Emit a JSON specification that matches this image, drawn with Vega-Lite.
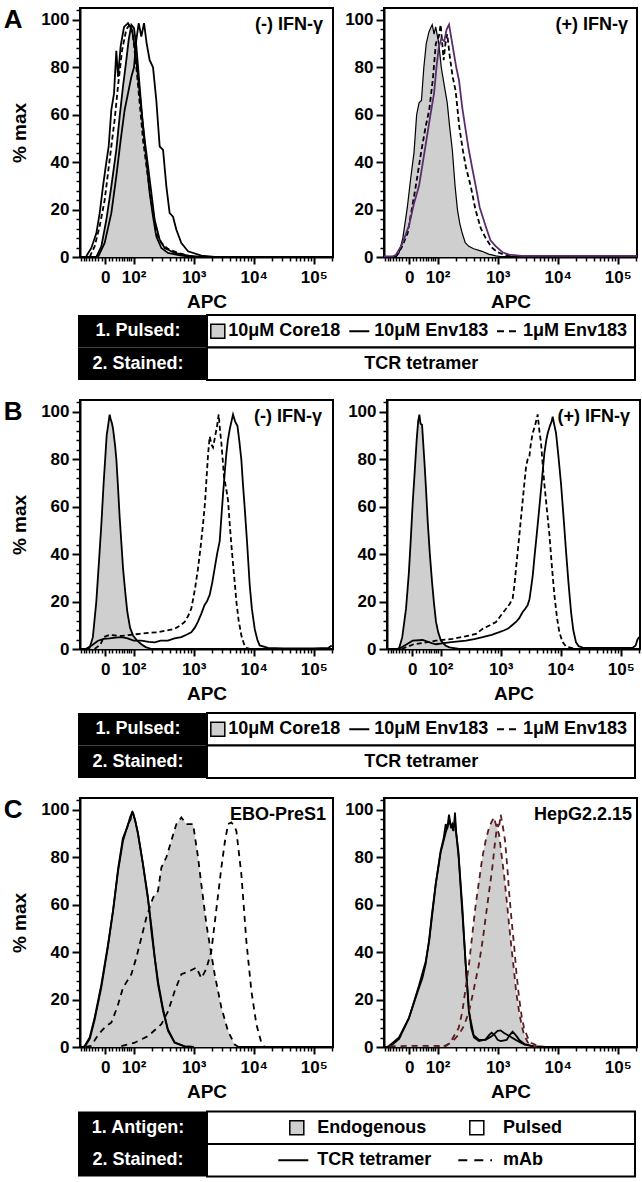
{
"$schema": "https://vega.github.io/schema/vega-lite/v6.json",
"padding": {"left": 2, "top": 6, "right": 0, "bottom": 0},
"config": {
  "font": "Liberation Sans",
  "view": {"stroke": "black", "strokeWidth": 2},
  "axis": {"grid": false, "domainColor": "black", "domainWidth": 2, "tickColor": "black", "tickWidth": 2, "labelColor": "black", "titleColor": "black", "labelFontSize": 17, "labelFontWeight": "bold", "titleFontSize": 19, "titleFontWeight": "bold"}
},
"datasets": {
"hist": [
{"p":"A1","s":"core","x":1.378,"y":0},{"p":"A1","s":"core","x":1.462,"y":4.5},{"p":"A1","s":"core","x":1.545,"y":15.7},{"p":"A1","s":"core","x":1.628,"y":29.8},{"p":"A1","s":"core","x":1.711,"y":45.2},{"p":"A1","s":"core","x":1.767,"y":59.3},{"p":"A1","s":"core","x":1.823,"y":72},{"p":"A1","s":"core","x":1.878,"y":83},{"p":"A1","s":"core","x":1.917,"y":91.6},{"p":"A1","s":"core","x":1.962,"y":97.9},{"p":"A1","s":"core","x":2.006,"y":96.5},{"p":"A1","s":"core","x":2.045,"y":88.8},{"p":"A1","s":"core","x":2.1,"y":72},{"p":"A1","s":"core","x":2.156,"y":55},{"p":"A1","s":"core","x":2.212,"y":41},{"p":"A1","s":"core","x":2.267,"y":27},{"p":"A1","s":"core","x":2.323,"y":17},{"p":"A1","s":"core","x":2.378,"y":8.7},{"p":"A1","s":"core","x":2.462,"y":3.8},{"p":"A1","s":"core","x":2.573,"y":1.7},{"p":"A1","s":"core","x":2.795,"y":0.6},{"p":"A1","s":"core","x":3.017,"y":0},
{"p":"A1","s":"solidA","x":1.21,"y":0.3},{"p":"A1","s":"solidA","x":1.295,"y":3.8},{"p":"A1","s":"solidA","x":1.378,"y":10},{"p":"A1","s":"solidA","x":1.434,"y":18.5},{"p":"A1","s":"solidA","x":1.49,"y":30},{"p":"A1","s":"solidA","x":1.545,"y":40},{"p":"A1","s":"solidA","x":1.584,"y":46.6},{"p":"A1","s":"solidA","x":1.628,"y":62},{"p":"A1","s":"solidA","x":1.673,"y":69},{"p":"A1","s":"solidA","x":1.711,"y":87},{"p":"A1","s":"solidA","x":1.739,"y":76},{"p":"A1","s":"solidA","x":1.784,"y":89},{"p":"A1","s":"solidA","x":1.84,"y":97},{"p":"A1","s":"solidA","x":1.906,"y":98.6},{"p":"A1","s":"solidA","x":1.973,"y":95.8},{"p":"A1","s":"solidA","x":2.017,"y":88.8},{"p":"A1","s":"solidA","x":2.073,"y":76},{"p":"A1","s":"solidA","x":2.128,"y":62},{"p":"A1","s":"solidA","x":2.184,"y":49.4},{"p":"A1","s":"solidA","x":2.24,"y":38.2},{"p":"A1","s":"solidA","x":2.295,"y":27},{"p":"A1","s":"solidA","x":2.35,"y":15.7},{"p":"A1","s":"solidA","x":2.434,"y":7.3},{"p":"A1","s":"solidA","x":2.517,"y":3.8},{"p":"A1","s":"solidA","x":2.684,"y":1.7},{"p":"A1","s":"solidA","x":2.906,"y":0.6},{"p":"A1","s":"solidA","x":3.128,"y":0},
{"p":"A1","s":"solidB","x":1.406,"y":0},{"p":"A1","s":"solidB","x":1.517,"y":5.9},{"p":"A1","s":"solidB","x":1.628,"y":18.5},{"p":"A1","s":"solidB","x":1.711,"y":34},{"p":"A1","s":"solidB","x":1.784,"y":49.4},{"p":"A1","s":"solidB","x":1.85,"y":62},{"p":"A1","s":"solidB","x":1.906,"y":69},{"p":"A1","s":"solidB","x":1.962,"y":76},{"p":"A1","s":"solidB","x":2.006,"y":80},{"p":"A1","s":"solidB","x":2.045,"y":91.6},{"p":"A1","s":"solidB","x":2.084,"y":98.6},{"p":"A1","s":"solidB","x":2.128,"y":93},{"p":"A1","s":"solidB","x":2.173,"y":98.6},{"p":"A1","s":"solidB","x":2.217,"y":90},{"p":"A1","s":"solidB","x":2.267,"y":83},{"p":"A1","s":"solidB","x":2.323,"y":80},{"p":"A1","s":"solidB","x":2.378,"y":66},{"p":"A1","s":"solidB","x":2.434,"y":46.6},{"p":"A1","s":"solidB","x":2.49,"y":45.2},{"p":"A1","s":"solidB","x":2.545,"y":29.8},{"p":"A1","s":"solidB","x":2.6,"y":18.5},{"p":"A1","s":"solidB","x":2.656,"y":17},{"p":"A1","s":"solidB","x":2.712,"y":11.5},{"p":"A1","s":"solidB","x":2.795,"y":5.9},{"p":"A1","s":"solidB","x":2.906,"y":2.4},{"p":"A1","s":"solidB","x":3.128,"y":0.6},{"p":"A1","s":"solidB","x":3.35,"y":0},
{"p":"A1","s":"dash","x":1.267,"y":0},{"p":"A1","s":"dash","x":1.35,"y":4.5},{"p":"A1","s":"dash","x":1.434,"y":13},{"p":"A1","s":"dash","x":1.517,"y":24},{"p":"A1","s":"dash","x":1.6,"y":41},{"p":"A1","s":"dash","x":1.684,"y":58},{"p":"A1","s":"dash","x":1.739,"y":72},{"p":"A1","s":"dash","x":1.806,"y":87},{"p":"A1","s":"dash","x":1.878,"y":96},{"p":"A1","s":"dash","x":1.934,"y":98},{"p":"A1","s":"dash","x":1.99,"y":93},{"p":"A1","s":"dash","x":2.045,"y":80},{"p":"A1","s":"dash","x":2.1,"y":65},{"p":"A1","s":"dash","x":2.156,"y":49.4},{"p":"A1","s":"dash","x":2.228,"y":35.4},{"p":"A1","s":"dash","x":2.306,"y":21.3},{"p":"A1","s":"dash","x":2.378,"y":10},{"p":"A1","s":"dash","x":2.462,"y":5.9},{"p":"A1","s":"dash","x":2.573,"y":3.4},{"p":"A1","s":"dash","x":2.74,"y":1.7},{"p":"A1","s":"dash","x":2.96,"y":0.3},
{"p":"A2","s":"core","x":1.3,"y":0},{"p":"A2","s":"core","x":1.356,"y":1.7},{"p":"A2","s":"core","x":1.42,"y":8},{"p":"A2","s":"core","x":1.495,"y":21},{"p":"A2","s":"core","x":1.55,"y":33},{"p":"A2","s":"core","x":1.606,"y":44},{"p":"A2","s":"core","x":1.65,"y":60},{"p":"A2","s":"core","x":1.69,"y":65},{"p":"A2","s":"core","x":1.73,"y":66},{"p":"A2","s":"core","x":1.77,"y":80},{"p":"A2","s":"core","x":1.81,"y":90},{"p":"A2","s":"core","x":1.856,"y":95},{"p":"A2","s":"core","x":1.91,"y":98},{"p":"A2","s":"core","x":1.94,"y":94},{"p":"A2","s":"core","x":1.967,"y":97},{"p":"A2","s":"core","x":2.02,"y":90},{"p":"A2","s":"core","x":2.06,"y":80},{"p":"A2","s":"core","x":2.106,"y":73},{"p":"A2","s":"core","x":2.16,"y":65},{"p":"A2","s":"core","x":2.2,"y":55},{"p":"A2","s":"core","x":2.245,"y":45},{"p":"A2","s":"core","x":2.29,"y":30},{"p":"A2","s":"core","x":2.33,"y":20},{"p":"A2","s":"core","x":2.37,"y":14},{"p":"A2","s":"core","x":2.41,"y":10},{"p":"A2","s":"core","x":2.46,"y":6},{"p":"A2","s":"core","x":2.52,"y":4.5},{"p":"A2","s":"core","x":2.6,"y":3.5},{"p":"A2","s":"core","x":2.74,"y":2.4},{"p":"A2","s":"core","x":2.85,"y":1.2},{"p":"A2","s":"core","x":2.97,"y":0.5},{"p":"A2","s":"core","x":3.1,"y":0},
{"p":"A2","s":"env10","x":1.106,"y":0.3},{"p":"A2","s":"env10","x":1.25,"y":0.3},{"p":"A2","s":"env10","x":1.3,"y":0.8},{"p":"A2","s":"env10","x":1.4,"y":5},{"p":"A2","s":"env10","x":1.52,"y":13},{"p":"A2","s":"env10","x":1.6,"y":22},{"p":"A2","s":"env10","x":1.69,"y":30},{"p":"A2","s":"env10","x":1.76,"y":41},{"p":"A2","s":"env10","x":1.83,"y":52},{"p":"A2","s":"env10","x":1.88,"y":60},{"p":"A2","s":"env10","x":1.94,"y":69},{"p":"A2","s":"env10","x":1.98,"y":80},{"p":"A2","s":"env10","x":2.02,"y":88.5},{"p":"A2","s":"env10","x":2.06,"y":92},{"p":"A2","s":"env10","x":2.11,"y":91},{"p":"A2","s":"env10","x":2.15,"y":96},{"p":"A2","s":"env10","x":2.19,"y":98},{"p":"A2","s":"env10","x":2.23,"y":92},{"p":"A2","s":"env10","x":2.27,"y":86},{"p":"A2","s":"env10","x":2.31,"y":80},{"p":"A2","s":"env10","x":2.356,"y":74.5},{"p":"A2","s":"env10","x":2.41,"y":63},{"p":"A2","s":"env10","x":2.467,"y":53.5},{"p":"A2","s":"env10","x":2.52,"y":45},{"p":"A2","s":"env10","x":2.58,"y":37},{"p":"A2","s":"env10","x":2.634,"y":30},{"p":"A2","s":"env10","x":2.7,"y":21},{"p":"A2","s":"env10","x":2.8,"y":13},{"p":"A2","s":"env10","x":2.88,"y":7},{"p":"A2","s":"env10","x":2.97,"y":4.5},{"p":"A2","s":"env10","x":3.08,"y":2},{"p":"A2","s":"env10","x":3.19,"y":1},{"p":"A2","s":"env10","x":3.4,"y":0.5},{"p":"A2","s":"env10","x":4,"y":0.5},{"p":"A2","s":"env10","x":5,"y":0.5},{"p":"A2","s":"env10","x":5.322,"y":0.5},
{"p":"A2","s":"dash","x":1.3,"y":0},{"p":"A2","s":"dash","x":1.4,"y":4},{"p":"A2","s":"dash","x":1.5,"y":10},{"p":"A2","s":"dash","x":1.63,"y":29},{"p":"A2","s":"dash","x":1.73,"y":45},{"p":"A2","s":"dash","x":1.8,"y":55},{"p":"A2","s":"dash","x":1.86,"y":62},{"p":"A2","s":"dash","x":1.92,"y":75},{"p":"A2","s":"dash","x":1.97,"y":90},{"p":"A2","s":"dash","x":2.02,"y":93},{"p":"A2","s":"dash","x":2.05,"y":98},{"p":"A2","s":"dash","x":2.1,"y":83},{"p":"A2","s":"dash","x":2.13,"y":90},{"p":"A2","s":"dash","x":2.16,"y":94},{"p":"A2","s":"dash","x":2.2,"y":85},{"p":"A2","s":"dash","x":2.25,"y":76},{"p":"A2","s":"dash","x":2.3,"y":70},{"p":"A2","s":"dash","x":2.36,"y":55},{"p":"A2","s":"dash","x":2.42,"y":45},{"p":"A2","s":"dash","x":2.47,"y":38},{"p":"A2","s":"dash","x":2.55,"y":30},{"p":"A2","s":"dash","x":2.63,"y":20},{"p":"A2","s":"dash","x":2.72,"y":12},{"p":"A2","s":"dash","x":2.8,"y":8},{"p":"A2","s":"dash","x":2.9,"y":4},{"p":"A2","s":"dash","x":3,"y":2},{"p":"A2","s":"dash","x":3.1,"y":1},{"p":"A2","s":"dash","x":3.3,"y":0.3},
{"p":"B1","s":"core","x":1.22,"y":0},{"p":"B1","s":"core","x":1.267,"y":0.5},{"p":"B1","s":"core","x":1.32,"y":5},{"p":"B1","s":"core","x":1.378,"y":20},{"p":"B1","s":"core","x":1.42,"y":36},{"p":"B1","s":"core","x":1.462,"y":52.6},{"p":"B1","s":"core","x":1.5,"y":70},{"p":"B1","s":"core","x":1.528,"y":81},{"p":"B1","s":"core","x":1.55,"y":90},{"p":"B1","s":"core","x":1.573,"y":94},{"p":"B1","s":"core","x":1.6,"y":98.8},{"p":"B1","s":"core","x":1.617,"y":97},{"p":"B1","s":"core","x":1.64,"y":95},{"p":"B1","s":"core","x":1.656,"y":93},{"p":"B1","s":"core","x":1.69,"y":86},{"p":"B1","s":"core","x":1.712,"y":80},{"p":"B1","s":"core","x":1.74,"y":68},{"p":"B1","s":"core","x":1.767,"y":55.5},{"p":"B1","s":"core","x":1.8,"y":43},{"p":"B1","s":"core","x":1.823,"y":34},{"p":"B1","s":"core","x":1.86,"y":24},{"p":"B1","s":"core","x":1.895,"y":15.6},{"p":"B1","s":"core","x":1.94,"y":9},{"p":"B1","s":"core","x":1.99,"y":5.7},{"p":"B1","s":"core","x":2.06,"y":3.5},{"p":"B1","s":"core","x":2.128,"y":2},{"p":"B1","s":"core","x":2.2,"y":0.8},{"p":"B1","s":"core","x":2.3,"y":0},
{"p":"B1","s":"env10","x":1.2,"y":0},{"p":"B1","s":"env10","x":1.3,"y":1.5},{"p":"B1","s":"env10","x":1.406,"y":3.5},{"p":"B1","s":"env10","x":1.5,"y":4.3},{"p":"B1","s":"env10","x":1.6,"y":4.5},{"p":"B1","s":"env10","x":1.7,"y":4.8},{"p":"B1","s":"env10","x":1.8,"y":5},{"p":"B1","s":"env10","x":1.9,"y":4.5},{"p":"B1","s":"env10","x":2,"y":3.5},{"p":"B1","s":"env10","x":2.128,"y":3.5},{"p":"B1","s":"env10","x":2.25,"y":3},{"p":"B1","s":"env10","x":2.35,"y":2.8},{"p":"B1","s":"env10","x":2.45,"y":3.5},{"p":"B1","s":"env10","x":2.57,"y":3.5},{"p":"B1","s":"env10","x":2.68,"y":4.5},{"p":"B1","s":"env10","x":2.795,"y":5},{"p":"B1","s":"env10","x":2.88,"y":6},{"p":"B1","s":"env10","x":2.96,"y":7},{"p":"B1","s":"env10","x":3.02,"y":9},{"p":"B1","s":"env10","x":3.07,"y":11.4},{"p":"B1","s":"env10","x":3.13,"y":15},{"p":"B1","s":"env10","x":3.18,"y":18.5},{"p":"B1","s":"env10","x":3.22,"y":20},{"p":"B1","s":"env10","x":3.267,"y":22.8},{"p":"B1","s":"env10","x":3.31,"y":28},{"p":"B1","s":"env10","x":3.35,"y":34},{"p":"B1","s":"env10","x":3.39,"y":40},{"p":"B1","s":"env10","x":3.434,"y":45.5},{"p":"B1","s":"env10","x":3.46,"y":55},{"p":"B1","s":"env10","x":3.49,"y":65.4},{"p":"B1","s":"env10","x":3.52,"y":75},{"p":"B1","s":"env10","x":3.545,"y":82.5},{"p":"B1","s":"env10","x":3.57,"y":88},{"p":"B1","s":"env10","x":3.6,"y":92.5},{"p":"B1","s":"env10","x":3.63,"y":96},{"p":"B1","s":"env10","x":3.656,"y":98.9},{"p":"B1","s":"env10","x":3.69,"y":96},{"p":"B1","s":"env10","x":3.73,"y":94},{"p":"B1","s":"env10","x":3.76,"y":88},{"p":"B1","s":"env10","x":3.795,"y":79.7},{"p":"B1","s":"env10","x":3.82,"y":70},{"p":"B1","s":"env10","x":3.85,"y":59.7},{"p":"B1","s":"env10","x":3.89,"y":45},{"p":"B1","s":"env10","x":3.934,"y":27},{"p":"B1","s":"env10","x":3.97,"y":17},{"p":"B1","s":"env10","x":4.017,"y":8.5},{"p":"B1","s":"env10","x":4.06,"y":4},{"p":"B1","s":"env10","x":4.1,"y":1.5},{"p":"B1","s":"env10","x":4.24,"y":0.5},{"p":"B1","s":"env10","x":4.5,"y":0.3},{"p":"B1","s":"env10","x":5,"y":0.3},{"p":"B1","s":"env10","x":5.25,"y":0.5},{"p":"B1","s":"env10","x":5.3,"y":1.5},
{"p":"B1","s":"dash","x":1.35,"y":0},{"p":"B1","s":"dash","x":1.45,"y":2},{"p":"B1","s":"dash","x":1.5,"y":5},{"p":"B1","s":"dash","x":1.6,"y":6},{"p":"B1","s":"dash","x":1.7,"y":5.7},{"p":"B1","s":"dash","x":1.8,"y":5.5},{"p":"B1","s":"dash","x":1.95,"y":6},{"p":"B1","s":"dash","x":2.1,"y":6.4},{"p":"B1","s":"dash","x":2.25,"y":6.8},{"p":"B1","s":"dash","x":2.406,"y":7.1},{"p":"B1","s":"dash","x":2.55,"y":7.8},{"p":"B1","s":"dash","x":2.684,"y":8.5},{"p":"B1","s":"dash","x":2.78,"y":10},{"p":"B1","s":"dash","x":2.85,"y":11.4},{"p":"B1","s":"dash","x":2.91,"y":14},{"p":"B1","s":"dash","x":2.96,"y":17},{"p":"B1","s":"dash","x":3.02,"y":25},{"p":"B1","s":"dash","x":3.073,"y":34},{"p":"B1","s":"dash","x":3.12,"y":44},{"p":"B1","s":"dash","x":3.156,"y":52.6},{"p":"B1","s":"dash","x":3.19,"y":62},{"p":"B1","s":"dash","x":3.212,"y":71},{"p":"B1","s":"dash","x":3.24,"y":82},{"p":"B1","s":"dash","x":3.267,"y":89.6},{"p":"B1","s":"dash","x":3.3,"y":86},{"p":"B1","s":"dash","x":3.323,"y":85},{"p":"B1","s":"dash","x":3.36,"y":90},{"p":"B1","s":"dash","x":3.39,"y":94},{"p":"B1","s":"dash","x":3.417,"y":98.9},{"p":"B1","s":"dash","x":3.44,"y":92},{"p":"B1","s":"dash","x":3.462,"y":86.8},{"p":"B1","s":"dash","x":3.49,"y":78},{"p":"B1","s":"dash","x":3.506,"y":72.5},{"p":"B1","s":"dash","x":3.54,"y":68},{"p":"B1","s":"dash","x":3.573,"y":62.6},{"p":"B1","s":"dash","x":3.6,"y":53},{"p":"B1","s":"dash","x":3.628,"y":44},{"p":"B1","s":"dash","x":3.67,"y":32},{"p":"B1","s":"dash","x":3.712,"y":20},{"p":"B1","s":"dash","x":3.75,"y":12},{"p":"B1","s":"dash","x":3.795,"y":5.7},{"p":"B1","s":"dash","x":3.84,"y":2},{"p":"B1","s":"dash","x":3.878,"y":0.5},{"p":"B1","s":"dash","x":3.95,"y":0},
{"p":"B2","s":"core","x":1.28,"y":0},{"p":"B2","s":"core","x":1.31,"y":0.5},{"p":"B2","s":"core","x":1.36,"y":5},{"p":"B2","s":"core","x":1.423,"y":17},{"p":"B2","s":"core","x":1.47,"y":32},{"p":"B2","s":"core","x":1.506,"y":48},{"p":"B2","s":"core","x":1.535,"y":62},{"p":"B2","s":"core","x":1.562,"y":72.5},{"p":"B2","s":"core","x":1.6,"y":88},{"p":"B2","s":"core","x":1.625,"y":96},{"p":"B2","s":"core","x":1.645,"y":98.8},{"p":"B2","s":"core","x":1.665,"y":95},{"p":"B2","s":"core","x":1.69,"y":94.6},{"p":"B2","s":"core","x":1.728,"y":79.7},{"p":"B2","s":"core","x":1.755,"y":68},{"p":"B2","s":"core","x":1.784,"y":54},{"p":"B2","s":"core","x":1.82,"y":40},{"p":"B2","s":"core","x":1.856,"y":28.4},{"p":"B2","s":"core","x":1.89,"y":19},{"p":"B2","s":"core","x":1.923,"y":11.4},{"p":"B2","s":"core","x":1.96,"y":7},{"p":"B2","s":"core","x":2.006,"y":3.5},{"p":"B2","s":"core","x":2.08,"y":1.5},{"p":"B2","s":"core","x":2.145,"y":0.7},{"p":"B2","s":"core","x":2.31,"y":0},
{"p":"B2","s":"env10","x":1.3,"y":0},{"p":"B2","s":"env10","x":1.4,"y":1.5},{"p":"B2","s":"env10","x":1.534,"y":3.5},{"p":"B2","s":"env10","x":1.7,"y":3.8},{"p":"B2","s":"env10","x":1.85,"y":2.5},{"p":"B2","s":"env10","x":1.923,"y":2},{"p":"B2","s":"env10","x":2.05,"y":2.5},{"p":"B2","s":"env10","x":2.145,"y":2.8},{"p":"B2","s":"env10","x":2.3,"y":3.2},{"p":"B2","s":"env10","x":2.423,"y":3.5},{"p":"B2","s":"env10","x":2.56,"y":4.2},{"p":"B2","s":"env10","x":2.7,"y":5},{"p":"B2","s":"env10","x":2.85,"y":6},{"p":"B2","s":"env10","x":2.978,"y":7.1},{"p":"B2","s":"env10","x":3.05,"y":7.8},{"p":"B2","s":"env10","x":3.117,"y":8.5},{"p":"B2","s":"env10","x":3.19,"y":10},{"p":"B2","s":"env10","x":3.256,"y":11.4},{"p":"B2","s":"env10","x":3.31,"y":13},{"p":"B2","s":"env10","x":3.367,"y":15.6},{"p":"B2","s":"env10","x":3.41,"y":17},{"p":"B2","s":"env10","x":3.45,"y":18.5},{"p":"B2","s":"env10","x":3.48,"y":21},{"p":"B2","s":"env10","x":3.506,"y":25.6},{"p":"B2","s":"env10","x":3.535,"y":31},{"p":"B2","s":"env10","x":3.562,"y":38.4},{"p":"B2","s":"env10","x":3.6,"y":48},{"p":"B2","s":"env10","x":3.645,"y":59.7},{"p":"B2","s":"env10","x":3.69,"y":72},{"p":"B2","s":"env10","x":3.728,"y":82.5},{"p":"B2","s":"env10","x":3.76,"y":88},{"p":"B2","s":"env10","x":3.784,"y":91},{"p":"B2","s":"env10","x":3.82,"y":94},{"p":"B2","s":"env10","x":3.85,"y":96},{"p":"B2","s":"env10","x":3.867,"y":98},{"p":"B2","s":"env10","x":3.89,"y":95},{"p":"B2","s":"env10","x":3.923,"y":91},{"p":"B2","s":"env10","x":3.96,"y":82},{"p":"B2","s":"env10","x":4.006,"y":69.7},{"p":"B2","s":"env10","x":4.05,"y":55},{"p":"B2","s":"env10","x":4.09,"y":41},{"p":"B2","s":"env10","x":4.13,"y":28},{"p":"B2","s":"env10","x":4.173,"y":15.6},{"p":"B2","s":"env10","x":4.21,"y":8},{"p":"B2","s":"env10","x":4.256,"y":2.8},{"p":"B2","s":"env10","x":4.3,"y":1.2},{"p":"B2","s":"env10","x":4.367,"y":0.6},{"p":"B2","s":"env10","x":4.6,"y":0.5},{"p":"B2","s":"env10","x":5,"y":0.5},{"p":"B2","s":"env10","x":5.2,"y":0.5},{"p":"B2","s":"env10","x":5.25,"y":1.5},{"p":"B2","s":"env10","x":5.28,"y":4},{"p":"B2","s":"env10","x":5.31,"y":5},
{"p":"B2","s":"dash","x":1.35,"y":0},{"p":"B2","s":"dash","x":1.45,"y":1},{"p":"B2","s":"dash","x":1.55,"y":2},{"p":"B2","s":"dash","x":1.7,"y":2.5},{"p":"B2","s":"dash","x":1.92,"y":3.5},{"p":"B2","s":"dash","x":2.2,"y":4.3},{"p":"B2","s":"dash","x":2.48,"y":5.7},{"p":"B2","s":"dash","x":2.6,"y":6.5},{"p":"B2","s":"dash","x":2.7,"y":8.5},{"p":"B2","s":"dash","x":2.82,"y":10},{"p":"B2","s":"dash","x":2.923,"y":11.4},{"p":"B2","s":"dash","x":3,"y":14},{"p":"B2","s":"dash","x":3.09,"y":17},{"p":"B2","s":"dash","x":3.15,"y":19},{"p":"B2","s":"dash","x":3.2,"y":21.3},{"p":"B2","s":"dash","x":3.23,"y":27},{"p":"B2","s":"dash","x":3.256,"y":34},{"p":"B2","s":"dash","x":3.3,"y":45},{"p":"B2","s":"dash","x":3.34,"y":55.5},{"p":"B2","s":"dash","x":3.38,"y":66},{"p":"B2","s":"dash","x":3.423,"y":76.8},{"p":"B2","s":"dash","x":3.45,"y":80},{"p":"B2","s":"dash","x":3.478,"y":81},{"p":"B2","s":"dash","x":3.5,"y":86},{"p":"B2","s":"dash","x":3.534,"y":91},{"p":"B2","s":"dash","x":3.57,"y":94},{"p":"B2","s":"dash","x":3.6,"y":97},{"p":"B2","s":"dash","x":3.617,"y":98.9},{"p":"B2","s":"dash","x":3.645,"y":92},{"p":"B2","s":"dash","x":3.673,"y":86.8},{"p":"B2","s":"dash","x":3.7,"y":78},{"p":"B2","s":"dash","x":3.728,"y":69.7},{"p":"B2","s":"dash","x":3.77,"y":59},{"p":"B2","s":"dash","x":3.812,"y":48.4},{"p":"B2","s":"dash","x":3.85,"y":36},{"p":"B2","s":"dash","x":3.895,"y":22.8},{"p":"B2","s":"dash","x":3.94,"y":13},{"p":"B2","s":"dash","x":3.978,"y":7.1},{"p":"B2","s":"dash","x":4.03,"y":3},{"p":"B2","s":"dash","x":4.09,"y":1},{"p":"B2","s":"dash","x":4.256,"y":0},
{"p":"C1","s":"endoTet","x":1.15,"y":0},{"p":"C1","s":"endoTet","x":1.184,"y":0.4},{"p":"C1","s":"endoTet","x":1.267,"y":4},{"p":"C1","s":"endoTet","x":1.35,"y":12.4},{"p":"C1","s":"endoTet","x":1.462,"y":26.4},{"p":"C1","s":"endoTet","x":1.573,"y":43.3},{"p":"C1","s":"endoTet","x":1.656,"y":57.4},{"p":"C1","s":"endoTet","x":1.739,"y":74},{"p":"C1","s":"endoTet","x":1.823,"y":87},{"p":"C1","s":"endoTet","x":1.906,"y":94},{"p":"C1","s":"endoTet","x":1.95,"y":96},{"p":"C1","s":"endoTet","x":1.97,"y":99},{"p":"C1","s":"endoTet","x":1.99,"y":98.9},{"p":"C1","s":"endoTet","x":2.01,"y":97},{"p":"C1","s":"endoTet","x":2.03,"y":95},{"p":"C1","s":"endoTet","x":2.073,"y":89.7},{"p":"C1","s":"endoTet","x":2.156,"y":77},{"p":"C1","s":"endoTet","x":2.24,"y":63},{"p":"C1","s":"endoTet","x":2.295,"y":49},{"p":"C1","s":"endoTet","x":2.35,"y":37.7},{"p":"C1","s":"endoTet","x":2.406,"y":26.4},{"p":"C1","s":"endoTet","x":2.49,"y":15.2},{"p":"C1","s":"endoTet","x":2.573,"y":6.8},{"p":"C1","s":"endoTet","x":2.684,"y":1.8},{"p":"C1","s":"endoTet","x":2.85,"y":0.3},{"p":"C1","s":"endoTet","x":3,"y":0},
{"p":"C1","s":"pulsTet","x":1.19,"y":0.3},{"p":"C1","s":"pulsTet","x":1.27,"y":3.5},{"p":"C1","s":"pulsTet","x":1.35,"y":11.5},{"p":"C1","s":"pulsTet","x":1.46,"y":25},{"p":"C1","s":"pulsTet","x":1.57,"y":42},{"p":"C1","s":"pulsTet","x":1.66,"y":58},{"p":"C1","s":"pulsTet","x":1.74,"y":75},{"p":"C1","s":"pulsTet","x":1.82,"y":88},{"p":"C1","s":"pulsTet","x":1.9,"y":93},{"p":"C1","s":"pulsTet","x":1.94,"y":97},{"p":"C1","s":"pulsTet","x":1.98,"y":99},{"p":"C1","s":"pulsTet","x":2.02,"y":96},{"p":"C1","s":"pulsTet","x":2.07,"y":90.5},{"p":"C1","s":"pulsTet","x":2.15,"y":78},{"p":"C1","s":"pulsTet","x":2.24,"y":62},{"p":"C1","s":"pulsTet","x":2.3,"y":50},{"p":"C1","s":"pulsTet","x":2.35,"y":38},{"p":"C1","s":"pulsTet","x":2.41,"y":27},{"p":"C1","s":"pulsTet","x":2.49,"y":16},{"p":"C1","s":"pulsTet","x":2.57,"y":7.5},{"p":"C1","s":"pulsTet","x":2.68,"y":2},{"p":"C1","s":"pulsTet","x":2.85,"y":0.3},{"p":"C1","s":"pulsTet","x":3,"y":0},
{"p":"C1","s":"endoMab","x":1.2,"y":0},{"p":"C1","s":"endoMab","x":1.295,"y":0.5},{"p":"C1","s":"endoMab","x":1.38,"y":4},{"p":"C1","s":"endoMab","x":1.462,"y":6.7},{"p":"C1","s":"endoMab","x":1.55,"y":9},{"p":"C1","s":"endoMab","x":1.628,"y":10.3},{"p":"C1","s":"endoMab","x":1.73,"y":17},{"p":"C1","s":"endoMab","x":1.823,"y":25},{"p":"C1","s":"endoMab","x":1.962,"y":30.7},{"p":"C1","s":"endoMab","x":2.045,"y":37.7},{"p":"C1","s":"endoMab","x":2.128,"y":46},{"p":"C1","s":"endoMab","x":2.212,"y":54.6},{"p":"C1","s":"endoMab","x":2.323,"y":63},{"p":"C1","s":"endoMab","x":2.406,"y":65.8},{"p":"C1","s":"endoMab","x":2.462,"y":75.7},{"p":"C1","s":"endoMab","x":2.545,"y":80},{"p":"C1","s":"endoMab","x":2.628,"y":87},{"p":"C1","s":"endoMab","x":2.712,"y":94},{"p":"C1","s":"endoMab","x":2.795,"y":96.8},{"p":"C1","s":"endoMab","x":2.878,"y":94},{"p":"C1","s":"endoMab","x":2.99,"y":94},{"p":"C1","s":"endoMab","x":3.073,"y":80},{"p":"C1","s":"endoMab","x":3.128,"y":68.6},{"p":"C1","s":"endoMab","x":3.212,"y":51.8},{"p":"C1","s":"endoMab","x":3.267,"y":43.3},{"p":"C1","s":"endoMab","x":3.35,"y":30.7},{"p":"C1","s":"endoMab","x":3.462,"y":16.6},{"p":"C1","s":"endoMab","x":3.573,"y":6.7},{"p":"C1","s":"endoMab","x":3.684,"y":1},{"p":"C1","s":"endoMab","x":3.75,"y":0},
{"p":"C1","s":"pulsMab","x":1.795,"y":0.4},{"p":"C1","s":"pulsMab","x":2.017,"y":1.8},{"p":"C1","s":"pulsMab","x":2.24,"y":4.6},{"p":"C1","s":"pulsMab","x":2.462,"y":9.6},{"p":"C1","s":"pulsMab","x":2.573,"y":15},{"p":"C1","s":"pulsMab","x":2.684,"y":23.6},{"p":"C1","s":"pulsMab","x":2.795,"y":30.7},{"p":"C1","s":"pulsMab","x":2.934,"y":32},{"p":"C1","s":"pulsMab","x":3.045,"y":33.5},{"p":"C1","s":"pulsMab","x":3.128,"y":29},{"p":"C1","s":"pulsMab","x":3.212,"y":33},{"p":"C1","s":"pulsMab","x":3.295,"y":40.5},{"p":"C1","s":"pulsMab","x":3.378,"y":58},{"p":"C1","s":"pulsMab","x":3.462,"y":75.7},{"p":"C1","s":"pulsMab","x":3.517,"y":86},{"p":"C1","s":"pulsMab","x":3.573,"y":94},{"p":"C1","s":"pulsMab","x":3.628,"y":94.7},{"p":"C1","s":"pulsMab","x":3.684,"y":93},{"p":"C1","s":"pulsMab","x":3.712,"y":91},{"p":"C1","s":"pulsMab","x":3.795,"y":72.8},{"p":"C1","s":"pulsMab","x":3.878,"y":44.7},{"p":"C1","s":"pulsMab","x":3.962,"y":23.6},{"p":"C1","s":"pulsMab","x":4.045,"y":9.6},{"p":"C1","s":"pulsMab","x":4.128,"y":1.8},{"p":"C1","s":"pulsMab","x":4.18,"y":0},
{"p":"C2","s":"endoTet","x":1.15,"y":0},{"p":"C2","s":"endoTet","x":1.189,"y":0.4},{"p":"C2","s":"endoTet","x":1.356,"y":4},{"p":"C2","s":"endoTet","x":1.523,"y":12.4},{"p":"C2","s":"endoTet","x":1.689,"y":25},{"p":"C2","s":"endoTet","x":1.745,"y":29},{"p":"C2","s":"endoTet","x":1.8,"y":35},{"p":"C2","s":"endoTet","x":1.856,"y":44.7},{"p":"C2","s":"endoTet","x":1.9,"y":55},{"p":"C2","s":"endoTet","x":1.967,"y":68.6},{"p":"C2","s":"endoTet","x":2.05,"y":82.7},{"p":"C2","s":"endoTet","x":2.1,"y":88},{"p":"C2","s":"endoTet","x":2.134,"y":94},{"p":"C2","s":"endoTet","x":2.16,"y":92},{"p":"C2","s":"endoTet","x":2.189,"y":98},{"p":"C2","s":"endoTet","x":2.22,"y":93},{"p":"C2","s":"endoTet","x":2.245,"y":94},{"p":"C2","s":"endoTet","x":2.265,"y":91},{"p":"C2","s":"endoTet","x":2.289,"y":98.9},{"p":"C2","s":"endoTet","x":2.31,"y":90},{"p":"C2","s":"endoTet","x":2.345,"y":82.7},{"p":"C2","s":"endoTet","x":2.38,"y":70},{"p":"C2","s":"endoTet","x":2.412,"y":58.8},{"p":"C2","s":"endoTet","x":2.467,"y":34.9},{"p":"C2","s":"endoTet","x":2.523,"y":15.2},{"p":"C2","s":"endoTet","x":2.56,"y":8},{"p":"C2","s":"endoTet","x":2.606,"y":4},{"p":"C2","s":"endoTet","x":2.689,"y":2.5},{"p":"C2","s":"endoTet","x":2.8,"y":3.2},{"p":"C2","s":"endoTet","x":2.856,"y":5},{"p":"C2","s":"endoTet","x":2.9,"y":6},{"p":"C2","s":"endoTet","x":2.95,"y":5},{"p":"C2","s":"endoTet","x":3,"y":3},{"p":"C2","s":"endoTet","x":3.05,"y":2.5},{"p":"C2","s":"endoTet","x":3.15,"y":3},{"p":"C2","s":"endoTet","x":3.2,"y":5},{"p":"C2","s":"endoTet","x":3.25,"y":6.5},{"p":"C2","s":"endoTet","x":3.3,"y":5},{"p":"C2","s":"endoTet","x":3.36,"y":3},{"p":"C2","s":"endoTet","x":3.45,"y":1.2},{"p":"C2","s":"endoTet","x":3.6,"y":0.3},{"p":"C2","s":"endoTet","x":3.8,"y":0},
{"p":"C2","s":"pulsTet","x":1.2,"y":0},{"p":"C2","s":"pulsTet","x":1.36,"y":3.5},{"p":"C2","s":"pulsTet","x":1.52,"y":12},{"p":"C2","s":"pulsTet","x":1.69,"y":26},{"p":"C2","s":"pulsTet","x":1.8,"y":36},{"p":"C2","s":"pulsTet","x":1.86,"y":45},{"p":"C2","s":"pulsTet","x":1.97,"y":69},{"p":"C2","s":"pulsTet","x":2.05,"y":82},{"p":"C2","s":"pulsTet","x":2.13,"y":90},{"p":"C2","s":"pulsTet","x":2.19,"y":95},{"p":"C2","s":"pulsTet","x":2.25,"y":92},{"p":"C2","s":"pulsTet","x":2.29,"y":95},{"p":"C2","s":"pulsTet","x":2.35,"y":80},{"p":"C2","s":"pulsTet","x":2.41,"y":57},{"p":"C2","s":"pulsTet","x":2.47,"y":34},{"p":"C2","s":"pulsTet","x":2.52,"y":15},{"p":"C2","s":"pulsTet","x":2.6,"y":5},{"p":"C2","s":"pulsTet","x":2.69,"y":3},{"p":"C2","s":"pulsTet","x":2.8,"y":3},{"p":"C2","s":"pulsTet","x":2.9,"y":4.5},{"p":"C2","s":"pulsTet","x":3,"y":6.8},{"p":"C2","s":"pulsTet","x":3.05,"y":7},{"p":"C2","s":"pulsTet","x":3.1,"y":6},{"p":"C2","s":"pulsTet","x":3.2,"y":4.5},{"p":"C2","s":"pulsTet","x":3.3,"y":3},{"p":"C2","s":"pulsTet","x":3.45,"y":1},{"p":"C2","s":"pulsTet","x":3.6,"y":0.3},{"p":"C2","s":"pulsTet","x":3.8,"y":0},
{"p":"C2","s":"endoMab","x":2.1,"y":0.3},{"p":"C2","s":"endoMab","x":2.2,"y":1.5},{"p":"C2","s":"endoMab","x":2.35,"y":8},{"p":"C2","s":"endoMab","x":2.412,"y":15},{"p":"C2","s":"endoMab","x":2.467,"y":25},{"p":"C2","s":"endoMab","x":2.523,"y":35},{"p":"C2","s":"endoMab","x":2.58,"y":48},{"p":"C2","s":"endoMab","x":2.634,"y":60},{"p":"C2","s":"endoMab","x":2.69,"y":70},{"p":"C2","s":"endoMab","x":2.745,"y":80},{"p":"C2","s":"endoMab","x":2.8,"y":87},{"p":"C2","s":"endoMab","x":2.856,"y":92.5},{"p":"C2","s":"endoMab","x":2.9,"y":95},{"p":"C2","s":"endoMab","x":2.939,"y":96.8},{"p":"C2","s":"endoMab","x":2.98,"y":93},{"p":"C2","s":"endoMab","x":3.023,"y":89.7},{"p":"C2","s":"endoMab","x":3.06,"y":82},{"p":"C2","s":"endoMab","x":3.106,"y":72.8},{"p":"C2","s":"endoMab","x":3.15,"y":62},{"p":"C2","s":"endoMab","x":3.189,"y":51.8},{"p":"C2","s":"endoMab","x":3.23,"y":42},{"p":"C2","s":"endoMab","x":3.273,"y":32},{"p":"C2","s":"endoMab","x":3.31,"y":23},{"p":"C2","s":"endoMab","x":3.356,"y":15.2},{"p":"C2","s":"endoMab","x":3.4,"y":9},{"p":"C2","s":"endoMab","x":3.439,"y":5.3},{"p":"C2","s":"endoMab","x":3.5,"y":2},{"p":"C2","s":"endoMab","x":3.578,"y":0.6},{"p":"C2","s":"endoMab","x":3.65,"y":0},
{"p":"C2","s":"pulsMab","x":1.2,"y":0.3},{"p":"C2","s":"pulsMab","x":1.6,"y":0.5},{"p":"C2","s":"pulsMab","x":2.134,"y":0.4},{"p":"C2","s":"pulsMab","x":2.25,"y":2.5},{"p":"C2","s":"pulsMab","x":2.356,"y":5.3},{"p":"C2","s":"pulsMab","x":2.44,"y":9},{"p":"C2","s":"pulsMab","x":2.523,"y":15},{"p":"C2","s":"pulsMab","x":2.6,"y":24},{"p":"C2","s":"pulsMab","x":2.689,"y":35},{"p":"C2","s":"pulsMab","x":2.75,"y":45},{"p":"C2","s":"pulsMab","x":2.8,"y":54.6},{"p":"C2","s":"pulsMab","x":2.86,"y":66},{"p":"C2","s":"pulsMab","x":2.912,"y":75.7},{"p":"C2","s":"pulsMab","x":2.95,"y":85},{"p":"C2","s":"pulsMab","x":2.995,"y":94},{"p":"C2","s":"pulsMab","x":3.02,"y":92},{"p":"C2","s":"pulsMab","x":3.05,"y":98},{"p":"C2","s":"pulsMab","x":3.08,"y":94},{"p":"C2","s":"pulsMab","x":3.123,"y":87},{"p":"C2","s":"pulsMab","x":3.16,"y":76},{"p":"C2","s":"pulsMab","x":3.189,"y":65.8},{"p":"C2","s":"pulsMab","x":3.23,"y":54},{"p":"C2","s":"pulsMab","x":3.273,"y":43},{"p":"C2","s":"pulsMab","x":3.31,"y":32},{"p":"C2","s":"pulsMab","x":3.356,"y":20.8},{"p":"C2","s":"pulsMab","x":3.4,"y":13},{"p":"C2","s":"pulsMab","x":3.439,"y":8},{"p":"C2","s":"pulsMab","x":3.5,"y":4},{"p":"C2","s":"pulsMab","x":3.55,"y":1.8},{"p":"C2","s":"pulsMab","x":3.689,"y":0.3}
]
},
"vconcat": [
{"hconcat": [
 {"width": 253, "height": 249,
  "title": {"text": "A", "anchor": "start", "frame": "bounds", "orient": "top", "fontSize": 26, "fontWeight": "bold", "color": "black", "offset": -25, "dx": -7},
  "layer": [
   {"data": {"name": "hist"}, "transform": [{"filter": "datum.p == 'A1' && datum.s == 'core'"}], "mark": {"type": "area", "color": "#cfcfcf"},
    "encoding": {"x": {"field": "x", "type": "quantitative", "scale": {"domain": [1.106, 5.322], "nice": false, "zero": false}, "axis": {"values": [1.528, 2, 3, 4, 5], "labelExpr": "datum.value < 1.9 ? '0' : datum.value < 2.5 ? '10²' : datum.value < 3.5 ? '10³' : datum.value < 4.5 ? '10⁴' : '10⁵'", "title": "APC", "tickSize": 7, "labelPadding": 5, "titlePadding": 7, "labelOverlap": false, "labelFlush": false, "labelBound": false}},
     "y": {"field": "y", "type": "quantitative", "stack": null, "scale": {"domain": [0, 105], "nice": false, "zero": false}, "axis": {"values": [0, 20, 40, 60, 80, 100], "title": "% max", "titlePadding": 11, "tickSize": 8, "labelPadding": 3}}}},
   {"data": {"name": "hist"}, "transform": [{"filter": "datum.p == 'A1' && datum.s != 'dash'"}], "mark": {"type": "line", "color": "black", "strokeWidth": 1.8},
    "encoding": {"x": {"field": "x", "type": "quantitative", "axis": {"orient": "bottom", "values": [1.13,1.167,1.209,1.254,1.303,1.356,1.412,1.469,1.587,1.644,1.7,1.753,1.802,1.847,1.889,1.926,1.962,2.301,2.477,2.602,2.699,2.778,2.845,2.903,2.954,3.301,3.477,3.602,3.699,3.778,3.845,3.903,3.954,4.301,4.477,4.602,4.699,4.778,4.845,4.903,4.954,5.301], "labels": false, "tickSize": 4, "tickWidth": 1.5, "domain": false, "title": null}},
     "y": {"field": "y", "type": "quantitative", "axis": {"orient": "left", "values": [4,8,12,16,24,28,32,36,44,48,52,56,64,68,72,76,84,88,92,96,104], "labels": false, "tickSize": 4, "tickWidth": 1.5, "domain": false, "title": null}},
     "detail": {"field": "s"}}},
   {"data": {"name": "hist"}, "transform": [{"filter": "datum.p == 'A1' && datum.s == 'dash'"}], "mark": {"type": "line", "color": "black", "strokeWidth": 1.8, "strokeDash": [5, 3]},
    "encoding": {"x": {"field": "x", "type": "quantitative", "axis": null}, "y": {"field": "y", "type": "quantitative", "axis": null}}},
   {"data": {"values": [{"label": "(-) IFN-γ"}]}, "mark": {"type": "text", "align": "right", "baseline": "middle", "dx": -10, "fontSize": 18, "fontWeight": "bold", "color": "black"},
    "encoding": {"x": {"datum": 5.322, "type": "quantitative", "axis": null}, "y": {"datum": 98, "type": "quantitative", "axis": null}, "text": {"field": "label"}}}
  ],
  "resolve": {"axis": {"x": "independent", "y": "independent"}}
 },
 {"width": 253, "height": 249,
  "layer": [
   {"data": {"name": "hist"}, "transform": [{"filter": "datum.p == 'A2' && datum.s == 'core'"}], "mark": {"type": "area", "color": "#cfcfcf"},
    "encoding": {"x": {"field": "x", "type": "quantitative", "scale": {"domain": [1.106, 5.322], "nice": false, "zero": false}, "axis": {"values": [1.528, 2, 3, 4, 5], "labelExpr": "datum.value < 1.9 ? '0' : datum.value < 2.5 ? '10²' : datum.value < 3.5 ? '10³' : datum.value < 4.5 ? '10⁴' : '10⁵'", "title": "APC", "tickSize": 7, "labelPadding": 5, "titlePadding": 7, "labelOverlap": false, "labelFlush": false, "labelBound": false}},
     "y": {"field": "y", "type": "quantitative", "stack": null, "scale": {"domain": [0, 105], "nice": false, "zero": false}, "axis": {"values": [0, 20, 40, 60, 80, 100], "title": null, "tickSize": 8, "labelPadding": 3}}}},
   {"data": {"name": "hist"}, "transform": [{"filter": "datum.p == 'A2' && datum.s == 'core'"}], "mark": {"type": "line", "color": "black", "strokeWidth": 1.2},
    "encoding": {"x": {"field": "x", "type": "quantitative", "axis": {"orient": "bottom", "values": [1.13,1.167,1.209,1.254,1.303,1.356,1.412,1.469,1.587,1.644,1.7,1.753,1.802,1.847,1.889,1.926,1.962,2.301,2.477,2.602,2.699,2.778,2.845,2.903,2.954,3.301,3.477,3.602,3.699,3.778,3.845,3.903,3.954,4.301,4.477,4.602,4.699,4.778,4.845,4.903,4.954,5.301], "labels": false, "tickSize": 4, "tickWidth": 1.5, "domain": false, "title": null}},
     "y": {"field": "y", "type": "quantitative", "axis": {"orient": "left", "values": [4,8,12,16,24,28,32,36,44,48,52,56,64,68,72,76,84,88,92,96,104], "labels": false, "tickSize": 4, "tickWidth": 1.5, "domain": false, "title": null}}}},
   {"data": {"name": "hist"}, "transform": [{"filter": "datum.p == 'A2' && datum.s == 'dash'"}], "mark": {"type": "line", "color": "black", "strokeWidth": 1.8, "strokeDash": [5, 3]},
    "encoding": {"x": {"field": "x", "type": "quantitative", "axis": null}, "y": {"field": "y", "type": "quantitative", "axis": null}}},
   {"data": {"name": "hist"}, "transform": [{"filter": "datum.p == 'A2' && datum.s == 'env10'"}], "mark": {"type": "line", "color": "#5b2d6e", "strokeWidth": 1.8},
    "encoding": {"x": {"field": "x", "type": "quantitative", "axis": null}, "y": {"field": "y", "type": "quantitative", "axis": null}}},
   {"data": {"values": [{"label": "(+) IFN-γ"}]}, "mark": {"type": "text", "align": "right", "baseline": "middle", "dx": -9, "fontSize": 18, "fontWeight": "bold", "color": "black"},
    "encoding": {"x": {"datum": 5.322, "type": "quantitative", "axis": null}, "y": {"datum": 98, "type": "quantitative", "axis": null}, "text": {"field": "label"}}}
  ],
  "resolve": {"axis": {"x": "independent", "y": "independent"}}
 }
], "spacing": 9},
{"width": 556, "height": 86, "view": {"stroke": null},
 "layer": [
  {"data": {"values": [{"row": 1}, {"row": 2}]}, "mark": {"type": "rect", "color": "black"},
   "encoding": {"x": {"datum": -2, "type": "quantitative", "scale": {"domain": [0, 556], "nice": false, "zero": false}, "axis": null}, "x2": {"datum": 127}, "y": {"field": "row", "type": "ordinal", "scale": {"domain": [1, 2], "range": [3, 68], "paddingInner": 0, "paddingOuter": 0}, "axis": null}}},
  {"data": {"values": [{"row": 1}, {"row": 2}]}, "mark": {"type": "rect", "fill": "white", "stroke": "black", "strokeWidth": 2},
   "encoding": {"x": {"datum": 127, "type": "quantitative"}, "x2": {"datum": 555}, "y": {"field": "row", "type": "ordinal"}}},
  {"data": {"values": [{"row": 1, "label": "1. Pulsed:"}, {"row": 2, "label": "2. Stained:"}]}, "mark": {"type": "text", "color": "white", "fontSize": 18, "fontWeight": "bold", "align": "center", "baseline": "middle"},
   "encoding": {"x": {"datum": 58, "type": "quantitative"}, "y": {"field": "row", "type": "ordinal"}, "text": {"field": "label"}}},
  {"data": {"values": [{"row": 1, "label": "10μM Core18"}]}, "mark": {"type": "square", "size": 196, "filled": true, "fill": "#cfcfcf", "stroke": "black", "strokeWidth": 1.5, "opacity": 1},
   "encoding": {"x": {"datum": 137.8, "type": "quantitative"}, "y": {"field": "row", "type": "ordinal"}}},
  {"data": {"values": [{"row": 1, "label": "10μM Core18"}]}, "mark": {"type": "text", "fontSize": 18, "fontWeight": "bold", "align": "left", "baseline": "middle", "color": "black"},
   "encoding": {"x": {"datum": 148.3, "type": "quantitative"}, "y": {"field": "row", "type": "ordinal"}, "text": {"field": "label"}}},
  {"data": {"values": [{"row": 1, "label": "10μM Env183"}]}, "mark": {"type": "rule", "color": "black", "strokeWidth": 2},
   "encoding": {"x": {"datum": 269.3, "type": "quantitative"}, "x2": {"datum": 289.3}, "y": {"field": "row", "type": "ordinal"}}},
  {"data": {"values": [{"row": 1, "label": "10μM Env183"}]}, "mark": {"type": "text", "fontSize": 18, "fontWeight": "bold", "align": "left", "baseline": "middle", "color": "black"},
   "encoding": {"x": {"datum": 294.3, "type": "quantitative"}, "y": {"field": "row", "type": "ordinal"}, "text": {"field": "label"}}},
  {"data": {"values": [{"row": 1, "label": "1μM Env183"}]}, "mark": {"type": "rule", "color": "black", "strokeWidth": 2, "strokeDash": [7, 5]},
   "encoding": {"x": {"datum": 417, "type": "quantitative"}, "x2": {"datum": 437}, "y": {"field": "row", "type": "ordinal"}}},
  {"data": {"values": [{"row": 1, "label": "1μM Env183"}]}, "mark": {"type": "text", "fontSize": 18, "fontWeight": "bold", "align": "left", "baseline": "middle", "color": "black"},
   "encoding": {"x": {"datum": 443, "type": "quantitative"}, "y": {"field": "row", "type": "ordinal"}, "text": {"field": "label"}}},
  {"data": {"values": [{"row": 2, "label": "TCR tetramer"}]}, "mark": {"type": "text", "fontSize": 18, "fontWeight": "bold", "align": "center", "baseline": "middle", "color": "black"},
   "encoding": {"x": {"datum": 341.3, "type": "quantitative"}, "y": {"field": "row", "type": "ordinal"}, "text": {"field": "label"}}}
 ]
},
{"hconcat": [
 {"width": 253, "height": 249,
  "title": {"text": "B", "anchor": "start", "frame": "bounds", "orient": "top", "fontSize": 26, "fontWeight": "bold", "color": "black", "offset": -25, "dx": -7},
  "layer": [
   {"data": {"name": "hist"}, "transform": [{"filter": "datum.p == 'B1' && datum.s == 'core'"}], "mark": {"type": "area", "color": "#cfcfcf"},
    "encoding": {"x": {"field": "x", "type": "quantitative", "scale": {"domain": [1.106, 5.322], "nice": false, "zero": false}, "axis": {"values": [1.528, 2, 3, 4, 5], "labelExpr": "datum.value < 1.9 ? '0' : datum.value < 2.5 ? '10²' : datum.value < 3.5 ? '10³' : datum.value < 4.5 ? '10⁴' : '10⁵'", "title": "APC", "tickSize": 7, "labelPadding": 5, "titlePadding": 7, "labelOverlap": false, "labelFlush": false, "labelBound": false}},
     "y": {"field": "y", "type": "quantitative", "stack": null, "scale": {"domain": [0, 105], "nice": false, "zero": false}, "axis": {"values": [0, 20, 40, 60, 80, 100], "title": "% max", "titlePadding": 11, "tickSize": 8, "labelPadding": 3}}}},
   {"data": {"name": "hist"}, "transform": [{"filter": "datum.p == 'B1' && datum.s != 'dash'"}], "mark": {"type": "line", "color": "black", "strokeWidth": 1.8},
    "encoding": {"x": {"field": "x", "type": "quantitative", "axis": {"orient": "bottom", "values": [1.13,1.167,1.209,1.254,1.303,1.356,1.412,1.469,1.587,1.644,1.7,1.753,1.802,1.847,1.889,1.926,1.962,2.301,2.477,2.602,2.699,2.778,2.845,2.903,2.954,3.301,3.477,3.602,3.699,3.778,3.845,3.903,3.954,4.301,4.477,4.602,4.699,4.778,4.845,4.903,4.954,5.301], "labels": false, "tickSize": 4, "tickWidth": 1.5, "domain": false, "title": null}},
     "y": {"field": "y", "type": "quantitative", "axis": {"orient": "left", "values": [4,8,12,16,24,28,32,36,44,48,52,56,64,68,72,76,84,88,92,96,104], "labels": false, "tickSize": 4, "tickWidth": 1.5, "domain": false, "title": null}},
     "detail": {"field": "s"}}},
   {"data": {"name": "hist"}, "transform": [{"filter": "datum.p == 'B1' && datum.s == 'dash'"}], "mark": {"type": "line", "color": "black", "strokeWidth": 1.8, "strokeDash": [5, 3]},
    "encoding": {"x": {"field": "x", "type": "quantitative", "axis": null}, "y": {"field": "y", "type": "quantitative", "axis": null}}},
   {"data": {"values": [{"label": "(-) IFN-γ"}]}, "mark": {"type": "text", "align": "right", "baseline": "middle", "dx": -11, "fontSize": 18, "fontWeight": "bold", "color": "black"},
    "encoding": {"x": {"datum": 5.322, "type": "quantitative", "axis": null}, "y": {"datum": 98, "type": "quantitative", "axis": null}, "text": {"field": "label"}}}
  ],
  "resolve": {"axis": {"x": "independent", "y": "independent"}}
 },
 {"width": 253, "height": 249,
  "layer": [
   {"data": {"name": "hist"}, "transform": [{"filter": "datum.p == 'B2' && datum.s == 'core'"}], "mark": {"type": "area", "color": "#cfcfcf"},
    "encoding": {"x": {"field": "x", "type": "quantitative", "scale": {"domain": [1.106, 5.322], "nice": false, "zero": false}, "axis": {"values": [1.528, 2, 3, 4, 5], "labelExpr": "datum.value < 1.9 ? '0' : datum.value < 2.5 ? '10²' : datum.value < 3.5 ? '10³' : datum.value < 4.5 ? '10⁴' : '10⁵'", "title": "APC", "tickSize": 7, "labelPadding": 5, "titlePadding": 7, "labelOverlap": false, "labelFlush": false, "labelBound": false}},
     "y": {"field": "y", "type": "quantitative", "stack": null, "scale": {"domain": [0, 105], "nice": false, "zero": false}, "axis": {"values": [0, 20, 40, 60, 80, 100], "title": null, "tickSize": 8, "labelPadding": 3}}}},
   {"data": {"name": "hist"}, "transform": [{"filter": "datum.p == 'B2' && datum.s != 'dash'"}], "mark": {"type": "line", "color": "black", "strokeWidth": 1.8},
    "encoding": {"x": {"field": "x", "type": "quantitative", "axis": {"orient": "bottom", "values": [1.13,1.167,1.209,1.254,1.303,1.356,1.412,1.469,1.587,1.644,1.7,1.753,1.802,1.847,1.889,1.926,1.962,2.301,2.477,2.602,2.699,2.778,2.845,2.903,2.954,3.301,3.477,3.602,3.699,3.778,3.845,3.903,3.954,4.301,4.477,4.602,4.699,4.778,4.845,4.903,4.954,5.301], "labels": false, "tickSize": 4, "tickWidth": 1.5, "domain": false, "title": null}},
     "y": {"field": "y", "type": "quantitative", "axis": {"orient": "left", "values": [4,8,12,16,24,28,32,36,44,48,52,56,64,68,72,76,84,88,92,96,104], "labels": false, "tickSize": 4, "tickWidth": 1.5, "domain": false, "title": null}},
     "detail": {"field": "s"}}},
   {"data": {"name": "hist"}, "transform": [{"filter": "datum.p == 'B2' && datum.s == 'dash'"}], "mark": {"type": "line", "color": "black", "strokeWidth": 1.8, "strokeDash": [5, 3]},
    "encoding": {"x": {"field": "x", "type": "quantitative", "axis": null}, "y": {"field": "y", "type": "quantitative", "axis": null}}},
   {"data": {"values": [{"label": "(+) IFN-γ"}]}, "mark": {"type": "text", "align": "right", "baseline": "middle", "dx": -10, "fontSize": 18, "fontWeight": "bold", "color": "black"},
    "encoding": {"x": {"datum": 5.322, "type": "quantitative", "axis": null}, "y": {"datum": 98, "type": "quantitative", "axis": null}, "text": {"field": "label"}}}
  ],
  "resolve": {"axis": {"x": "independent", "y": "independent"}}
 }
], "spacing": 9},
{"width": 556, "height": 92, "view": {"stroke": null},
 "layer": [
  {"data": {"values": [{"row": 1}, {"row": 2}]}, "mark": {"type": "rect", "color": "black"},
   "encoding": {"x": {"datum": -2, "type": "quantitative", "scale": {"domain": [0, 556], "nice": false, "zero": false}, "axis": null}, "x2": {"datum": 127}, "y": {"field": "row", "type": "ordinal", "scale": {"domain": [1, 2], "range": [9, 74], "paddingInner": 0, "paddingOuter": 0}, "axis": null}}},
  {"data": {"values": [{"row": 1}, {"row": 2}]}, "mark": {"type": "rect", "fill": "white", "stroke": "black", "strokeWidth": 2},
   "encoding": {"x": {"datum": 127, "type": "quantitative"}, "x2": {"datum": 555}, "y": {"field": "row", "type": "ordinal"}}},
  {"data": {"values": [{"row": 1, "label": "1. Pulsed:"}, {"row": 2, "label": "2. Stained:"}]}, "mark": {"type": "text", "color": "white", "fontSize": 18, "fontWeight": "bold", "align": "center", "baseline": "middle"},
   "encoding": {"x": {"datum": 58, "type": "quantitative"}, "y": {"field": "row", "type": "ordinal"}, "text": {"field": "label"}}},
  {"data": {"values": [{"row": 1, "label": "10μM Core18"}]}, "mark": {"type": "square", "size": 196, "filled": true, "fill": "#cfcfcf", "stroke": "black", "strokeWidth": 1.5, "opacity": 1},
   "encoding": {"x": {"datum": 137.8, "type": "quantitative"}, "y": {"field": "row", "type": "ordinal"}}},
  {"data": {"values": [{"row": 1, "label": "10μM Core18"}]}, "mark": {"type": "text", "fontSize": 18, "fontWeight": "bold", "align": "left", "baseline": "middle", "color": "black"},
   "encoding": {"x": {"datum": 148.3, "type": "quantitative"}, "y": {"field": "row", "type": "ordinal"}, "text": {"field": "label"}}},
  {"data": {"values": [{"row": 1, "label": "10μM Env183"}]}, "mark": {"type": "rule", "color": "black", "strokeWidth": 2},
   "encoding": {"x": {"datum": 269.3, "type": "quantitative"}, "x2": {"datum": 289.3}, "y": {"field": "row", "type": "ordinal"}}},
  {"data": {"values": [{"row": 1, "label": "10μM Env183"}]}, "mark": {"type": "text", "fontSize": 18, "fontWeight": "bold", "align": "left", "baseline": "middle", "color": "black"},
   "encoding": {"x": {"datum": 294.3, "type": "quantitative"}, "y": {"field": "row", "type": "ordinal"}, "text": {"field": "label"}}},
  {"data": {"values": [{"row": 1, "label": "1μM Env183"}]}, "mark": {"type": "rule", "color": "black", "strokeWidth": 2, "strokeDash": [7, 5]},
   "encoding": {"x": {"datum": 417, "type": "quantitative"}, "x2": {"datum": 437}, "y": {"field": "row", "type": "ordinal"}}},
  {"data": {"values": [{"row": 1, "label": "1μM Env183"}]}, "mark": {"type": "text", "fontSize": 18, "fontWeight": "bold", "align": "left", "baseline": "middle", "color": "black"},
   "encoding": {"x": {"datum": 443, "type": "quantitative"}, "y": {"field": "row", "type": "ordinal"}, "text": {"field": "label"}}},
  {"data": {"values": [{"row": 2, "label": "TCR tetramer"}]}, "mark": {"type": "text", "fontSize": 18, "fontWeight": "bold", "align": "center", "baseline": "middle", "color": "black"},
   "encoding": {"x": {"datum": 341.3, "type": "quantitative"}, "y": {"field": "row", "type": "ordinal"}, "text": {"field": "label"}}}
 ]
},
{"hconcat": [
 {"width": 253, "height": 249,
  "title": {"text": "C", "anchor": "start", "frame": "bounds", "orient": "top", "fontSize": 26, "fontWeight": "bold", "color": "black", "offset": -25, "dx": -7},
  "layer": [
   {"data": {"name": "hist"}, "transform": [{"filter": "datum.p == 'C1' && (datum.s == 'endoTet' || datum.s == 'endoMab')"}], "mark": {"type": "area", "color": "#cfcfcf"},
    "encoding": {"x": {"field": "x", "type": "quantitative", "scale": {"domain": [1.106, 5.322], "nice": false, "zero": false}, "axis": {"values": [1.528, 2, 3, 4, 5], "labelExpr": "datum.value < 1.9 ? '0' : datum.value < 2.5 ? '10²' : datum.value < 3.5 ? '10³' : datum.value < 4.5 ? '10⁴' : '10⁵'", "title": "APC", "tickSize": 7, "labelPadding": 5, "titlePadding": 7, "labelOverlap": false, "labelFlush": false, "labelBound": false}},
     "y": {"field": "y", "type": "quantitative", "stack": null, "scale": {"domain": [0, 105], "nice": false, "zero": false}, "axis": {"values": [0, 20, 40, 60, 80, 100], "title": "% max", "titlePadding": 11, "tickSize": 8, "labelPadding": 3}},
     "detail": {"field": "s"}}},
   {"data": {"name": "hist"}, "transform": [{"filter": "datum.p == 'C1' && (datum.s == 'endoTet' || datum.s == 'pulsTet')"}], "mark": {"type": "line", "color": "black", "strokeWidth": 1.8},
    "encoding": {"x": {"field": "x", "type": "quantitative", "axis": {"orient": "bottom", "values": [1.13,1.167,1.209,1.254,1.303,1.356,1.412,1.469,1.587,1.644,1.7,1.753,1.802,1.847,1.889,1.926,1.962,2.301,2.477,2.602,2.699,2.778,2.845,2.903,2.954,3.301,3.477,3.602,3.699,3.778,3.845,3.903,3.954,4.301,4.477,4.602,4.699,4.778,4.845,4.903,4.954,5.301], "labels": false, "tickSize": 4, "tickWidth": 1.5, "domain": false, "title": null}},
     "y": {"field": "y", "type": "quantitative", "axis": {"orient": "left", "values": [4,8,12,16,24,28,32,36,44,48,52,56,64,68,72,76,84,88,92,96,104], "labels": false, "tickSize": 4, "tickWidth": 1.5, "domain": false, "title": null}},
     "detail": {"field": "s"}}},
   {"data": {"name": "hist"}, "transform": [{"filter": "datum.p == 'C1' && (datum.s == 'endoMab' || datum.s == 'pulsMab')"}], "mark": {"type": "line", "color": "black", "strokeWidth": 1.8, "strokeDash": [6, 5]},
    "encoding": {"x": {"field": "x", "type": "quantitative", "axis": null}, "y": {"field": "y", "type": "quantitative", "axis": null}, "detail": {"field": "s"}}},
   {"data": {"values": [{"label": "EBO-PreS1"}]}, "mark": {"type": "text", "align": "right", "baseline": "middle", "dx": -7, "fontSize": 18, "fontWeight": "bold", "color": "black"},
    "encoding": {"x": {"datum": 5.322, "type": "quantitative", "axis": null}, "y": {"datum": 98, "type": "quantitative", "axis": null}, "text": {"field": "label"}}}
  ],
  "resolve": {"axis": {"x": "independent", "y": "independent"}}
 },
 {"width": 253, "height": 249,
  "layer": [
   {"data": {"name": "hist"}, "transform": [{"filter": "datum.p == 'C2' && (datum.s == 'endoTet' || datum.s == 'endoMab')"}], "mark": {"type": "area", "color": "#cfcfcf"},
    "encoding": {"x": {"field": "x", "type": "quantitative", "scale": {"domain": [1.106, 5.322], "nice": false, "zero": false}, "axis": {"values": [1.528, 2, 3, 4, 5], "labelExpr": "datum.value < 1.9 ? '0' : datum.value < 2.5 ? '10²' : datum.value < 3.5 ? '10³' : datum.value < 4.5 ? '10⁴' : '10⁵'", "title": "APC", "tickSize": 7, "labelPadding": 5, "titlePadding": 7, "labelOverlap": false, "labelFlush": false, "labelBound": false}},
     "y": {"field": "y", "type": "quantitative", "stack": null, "scale": {"domain": [0, 105], "nice": false, "zero": false}, "axis": {"values": [0, 20, 40, 60, 80, 100], "title": null, "tickSize": 8, "labelPadding": 3}},
     "detail": {"field": "s"}}},
   {"data": {"name": "hist"}, "transform": [{"filter": "datum.p == 'C2' && (datum.s == 'endoTet' || datum.s == 'pulsTet')"}], "mark": {"type": "line", "color": "black", "strokeWidth": 1.8},
    "encoding": {"x": {"field": "x", "type": "quantitative", "axis": {"orient": "bottom", "values": [1.13,1.167,1.209,1.254,1.303,1.356,1.412,1.469,1.587,1.644,1.7,1.753,1.802,1.847,1.889,1.926,1.962,2.301,2.477,2.602,2.699,2.778,2.845,2.903,2.954,3.301,3.477,3.602,3.699,3.778,3.845,3.903,3.954,4.301,4.477,4.602,4.699,4.778,4.845,4.903,4.954,5.301], "labels": false, "tickSize": 4, "tickWidth": 1.5, "domain": false, "title": null}},
     "y": {"field": "y", "type": "quantitative", "axis": {"orient": "left", "values": [4,8,12,16,24,28,32,36,44,48,52,56,64,68,72,76,84,88,92,96,104], "labels": false, "tickSize": 4, "tickWidth": 1.5, "domain": false, "title": null}},
     "detail": {"field": "s"}}},
   {"data": {"name": "hist"}, "transform": [{"filter": "datum.p == 'C2' && (datum.s == 'endoMab' || datum.s == 'pulsMab')"}], "mark": {"type": "line", "color": "#5a1c1c", "strokeWidth": 1.8, "strokeDash": [6, 5]},
    "encoding": {"x": {"field": "x", "type": "quantitative", "axis": null}, "y": {"field": "y", "type": "quantitative", "axis": null}, "detail": {"field": "s"}}},
   {"data": {"values": [{"label": "HepG2.2.15"}]}, "mark": {"type": "text", "align": "right", "baseline": "middle", "dx": -5, "fontSize": 18, "fontWeight": "bold", "color": "black"},
    "encoding": {"x": {"datum": 5.322, "type": "quantitative", "axis": null}, "y": {"datum": 98, "type": "quantitative", "axis": null}, "text": {"field": "label"}}}
  ],
  "resolve": {"axis": {"x": "independent", "y": "independent"}}
 }
], "spacing": 9},
{"width": 556, "height": 76, "view": {"stroke": null},
 "layer": [
  {"data": {"values": [{"row": 1}, {"row": 2}]}, "mark": {"type": "rect", "color": "black"},
   "encoding": {"x": {"datum": -2, "type": "quantitative", "scale": {"domain": [0, 556], "nice": false, "zero": false}, "axis": null}, "x2": {"datum": 127}, "y": {"field": "row", "type": "ordinal", "scale": {"domain": [1, 2], "range": [9.5, 74.5], "paddingInner": 0, "paddingOuter": 0}, "axis": null}}},
  {"data": {"values": [{"row": 1}, {"row": 2}]}, "mark": {"type": "rect", "fill": "white", "stroke": "black", "strokeWidth": 2},
   "encoding": {"x": {"datum": 127, "type": "quantitative"}, "x2": {"datum": 555}, "y": {"field": "row", "type": "ordinal"}}},
  {"data": {"values": [{"row": 1, "label": "1. Antigen:"}, {"row": 2, "label": "2. Stained:"}]}, "mark": {"type": "text", "color": "white", "fontSize": 18, "fontWeight": "bold", "align": "center", "baseline": "middle"},
   "encoding": {"x": {"datum": 58, "type": "quantitative"}, "y": {"field": "row", "type": "ordinal"}, "text": {"field": "label"}}},
  {"data": {"values": [{"row": 1, "label": "Endogenous"}]}, "mark": {"type": "square", "size": 196, "filled": true, "fill": "#cfcfcf", "stroke": "black", "strokeWidth": 1.5, "opacity": 1},
   "encoding": {"x": {"datum": 216.8, "type": "quantitative"}, "y": {"field": "row", "type": "ordinal"}}},
  {"data": {"values": [{"row": 1, "label": "Endogenous"}]}, "mark": {"type": "text", "fontSize": 18, "fontWeight": "bold", "align": "left", "baseline": "middle", "color": "black"},
   "encoding": {"x": {"datum": 237.3, "type": "quantitative"}, "y": {"field": "row", "type": "ordinal"}, "text": {"field": "label"}}},
  {"data": {"values": [{"row": 1, "label": "Pulsed"}]}, "mark": {"type": "square", "size": 196, "filled": true, "fill": "white", "stroke": "black", "strokeWidth": 1.5, "opacity": 1},
   "encoding": {"x": {"datum": 396.8, "type": "quantitative"}, "y": {"field": "row", "type": "ordinal"}}},
  {"data": {"values": [{"row": 1, "label": "Pulsed"}]}, "mark": {"type": "text", "fontSize": 18, "fontWeight": "bold", "align": "left", "baseline": "middle", "color": "black"},
   "encoding": {"x": {"datum": 423, "type": "quantitative"}, "y": {"field": "row", "type": "ordinal"}, "text": {"field": "label"}}},
  {"data": {"values": [{"row": 2, "label": "TCR tetramer"}]}, "mark": {"type": "rule", "color": "black", "strokeWidth": 2},
   "encoding": {"x": {"datum": 198.3, "type": "quantitative"}, "x2": {"datum": 228.3}, "y": {"field": "row", "type": "ordinal"}}},
  {"data": {"values": [{"row": 2, "label": "TCR tetramer"}]}, "mark": {"type": "text", "fontSize": 18, "fontWeight": "bold", "align": "left", "baseline": "middle", "color": "black"},
   "encoding": {"x": {"datum": 237.3, "type": "quantitative"}, "y": {"field": "row", "type": "ordinal"}, "text": {"field": "label"}}},
  {"data": {"values": [{"row": 2, "label": "mAb"}]}, "mark": {"type": "rule", "color": "black", "strokeWidth": 2, "strokeDash": [9, 7]},
   "encoding": {"x": {"datum": 378.3, "type": "quantitative"}, "x2": {"datum": 412}, "y": {"field": "row", "type": "ordinal"}}},
  {"data": {"values": [{"row": 2, "label": "mAb"}]}, "mark": {"type": "text", "fontSize": 18, "fontWeight": "bold", "align": "left", "baseline": "middle", "color": "black"},
   "encoding": {"x": {"datum": 423, "type": "quantitative"}, "y": {"field": "row", "type": "ordinal"}, "text": {"field": "label"}}}
 ]
}
],
"spacing": 0
}
